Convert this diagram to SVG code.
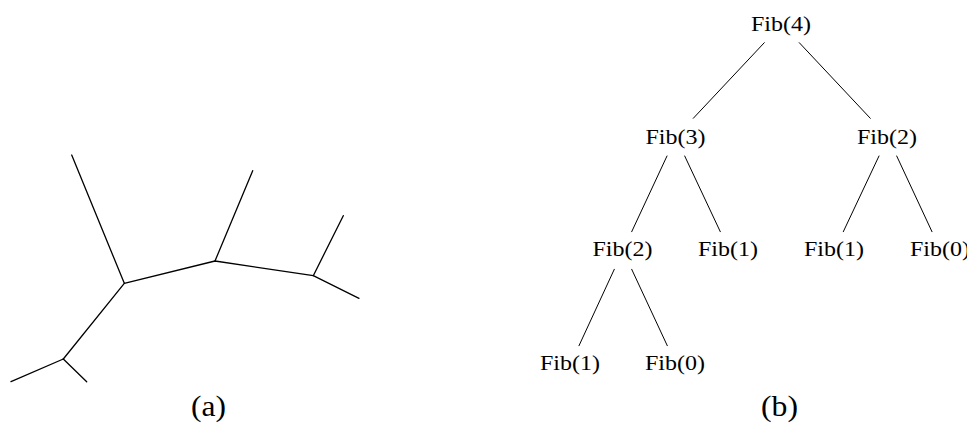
<svg xmlns="http://www.w3.org/2000/svg" width="967" height="425" viewBox="0 0 967 425">
  <style>
    .edge { stroke: #000; stroke-width: 1; fill: none; stroke-linecap: round; }
    .branch { stroke: #000; stroke-width: 1.3; fill: none; stroke-linecap: round; stroke-linejoin: round; }
    .lbl { font-family: "Liberation Serif", "DejaVu Serif", serif; font-size: 21px; fill: #000; text-anchor: middle; }
    .cap { font-family: "Liberation Serif", "DejaVu Serif", serif; font-size: 30px; fill: #000; text-anchor: middle; }
  </style>
  <rect width="967" height="425" fill="#fff"/>

  <!-- (a) unrooted tree -->
  <g id="tree-a">
    <g id="tree-a-branches">
      <polyline class="branch" points="71.7,155 124.3,283.3 215,261 313.3,275.7 359,298.3"/>
      <line class="branch" x1="215" y1="261" x2="252.7" y2="170.7"/>
      <line class="branch" x1="313.3" y1="275.7" x2="343.3" y2="215.7"/>
      <line class="branch" x1="124.3" y1="283.3" x2="63.3" y2="359"/>
      <line class="branch" x1="63.3" y1="359" x2="11" y2="381.7"/>
      <line class="branch" x1="63.3" y1="359" x2="86.7" y2="381.7"/>
    </g>
    <text id="caption-a" class="cap" x="208.5" y="416" textLength="35" lengthAdjust="spacingAndGlyphs">(a)</text>
  </g>

  <!-- (b) Fibonacci call tree -->
  <g id="tree-b">
    <g id="connectors">
      <line class="edge" x1="764.3" y1="42.7" x2="693.3" y2="118.3"/>
      <line class="edge" x1="799.3" y1="42.7" x2="870.3" y2="118.3"/>
      <line class="edge" x1="667" y1="156" x2="631.7" y2="231.7"/>
      <line class="edge" x1="684.7" y1="156" x2="720.3" y2="231.7"/>
      <line class="edge" x1="879" y1="156" x2="843.3" y2="231.7"/>
      <line class="edge" x1="896.7" y1="156" x2="932" y2="231.7"/>
      <line class="edge" x1="614.3" y1="269.3" x2="579" y2="345.7"/>
      <line class="edge" x1="631.7" y1="269.3" x2="667.3" y2="345.7"/>
    </g>
    <g id="fib4"><text class="lbl" x="781" y="31" textLength="60" lengthAdjust="spacingAndGlyphs">Fib(4)</text></g>
    <g id="fib3"><text class="lbl" x="675.5" y="143.5" textLength="60" lengthAdjust="spacingAndGlyphs">Fib(3)</text></g>
    <g id="fib2-r"><text class="lbl" x="887" y="143.5" textLength="60" lengthAdjust="spacingAndGlyphs">Fib(2)</text></g>
    <g id="fib2-l"><text class="lbl" x="622.5" y="256" textLength="60" lengthAdjust="spacingAndGlyphs">Fib(2)</text></g>
    <g id="fib1-a"><text class="lbl" x="728" y="256" textLength="60" lengthAdjust="spacingAndGlyphs">Fib(1)</text></g>
    <g id="fib1-b"><text class="lbl" x="834" y="256" textLength="60" lengthAdjust="spacingAndGlyphs">Fib(1)</text></g>
    <g id="fib0-a"><text class="lbl" x="940" y="256" textLength="60" lengthAdjust="spacingAndGlyphs">Fib(0)</text></g>
    <g id="fib1-c"><text class="lbl" x="570" y="370" textLength="60" lengthAdjust="spacingAndGlyphs">Fib(1)</text></g>
    <g id="fib0-b"><text class="lbl" x="675" y="370" textLength="60" lengthAdjust="spacingAndGlyphs">Fib(0)</text></g>
    <text id="caption-b" class="cap" x="779.5" y="416" textLength="37" lengthAdjust="spacingAndGlyphs">(b)</text>
  </g>
</svg>
